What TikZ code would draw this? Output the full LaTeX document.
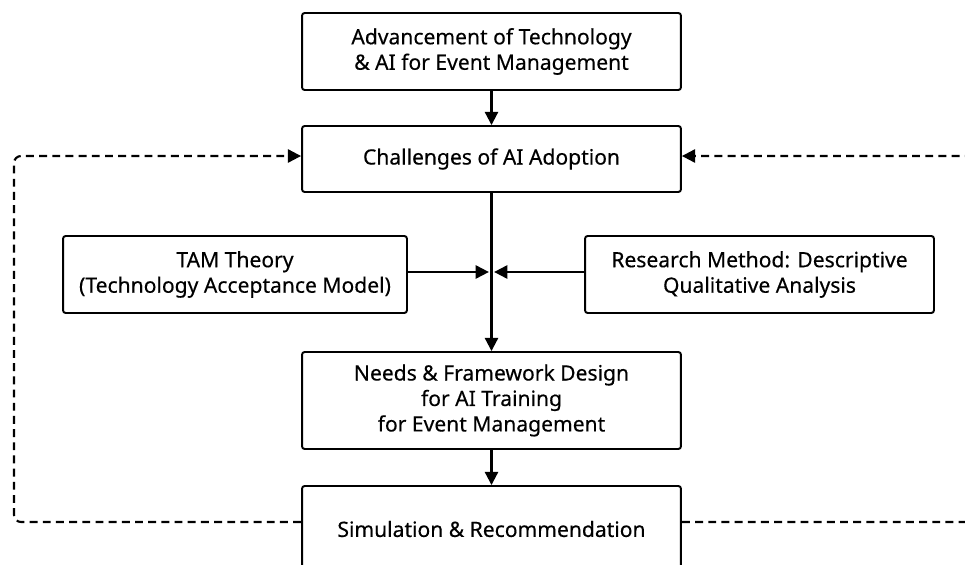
\documentclass[tikz,border=0pt]{standalone}
\usepackage{fontspec}
\setmainfont{Noto Sans}
\newfontfamily\boxfont{Noto Sans}[FakeBold=0.35]
\usetikzlibrary{arrows.meta,calc,positioning}

\begin{document}
\begin{tikzpicture}[x=0.02cm,y=-0.02cm,
    box/.style={draw,line width=1.1pt,rounded corners=1.5pt,align=center,
      font=\boxfont\fontsize{12}{14.5}\selectfont,inner sep=2pt},
    flow/.style={line width=1.2pt,-{Triangle[length=7.5pt,width=7.5pt]}},
    loop/.style={flow,dash pattern=on 4.5pt off 3pt,rounded corners=4pt}]
    \clip (0,0) rectangle (965,565);

    % main column
    \node[box,minimum width=7.58cm,minimum height=1.54cm] (adv) at (491.5,51.5)
      {Advancement of Technology\\\& AI for Event Management};
    \node[box,minimum width=7.58cm,minimum height=1.32cm] (chal) at (491.5,159)
      {Challenges of AI Adoption};
    \node[box,minimum width=7.58cm,minimum height=1.94cm] (needs) at (491.5,400.5)
      {Needs \& Framework Design\\for AI Training\\for Event Management};
    \node[box,minimum width=7.58cm,minimum height=1.72cm] (sim) at (491.5,529)
      {Simulation \& Recommendation};

    % side inputs
    \node[box,minimum width=6.88cm,minimum height=1.54cm] (tam) at (235,274.5)
      {TAM Theory\\(Technology Acceptance Model)};
    \node[box,minimum width=6.98cm,minimum height=1.54cm] (method) at (759.5,274.5)
      {Research Method: Descriptive\\Qualitative Analysis};

    \coordinate (join) at (491.5,272);
    \coordinate (lb) at (14,522);
    \coordinate (lt) at (14,156);
    \coordinate (rb) at (990,522);
    \coordinate (rt) at (990,156);

    \draw[flow] (adv) -- (chal);
    \draw[flow] (chal) -- (needs);
    \draw[flow] (needs) -- (sim);
    \draw[flow,shorten >=1.5pt] (tam.east |- join) -- (join);
    \draw[flow,shorten >=1.5pt] (method.west |- join) -- (join);

    % feedback loops
    \draw[loop] (sim.west |- lb) -- (lb) -- (lt) -- (chal.west |- lt);
    \draw[loop] (sim.east |- rb) -- (rb) -- (rt) -- (chal.east |- rt);
\end{tikzpicture}
\end{document}
